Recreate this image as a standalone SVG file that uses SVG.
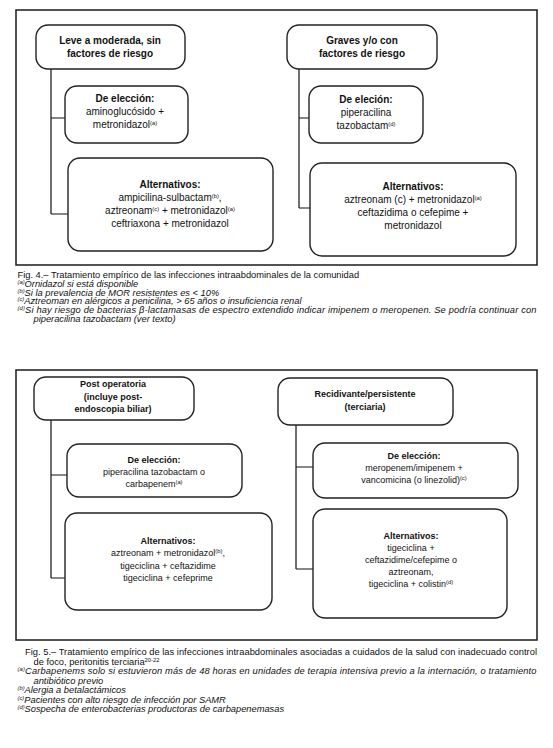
<svg xmlns="http://www.w3.org/2000/svg" width="553" height="748" viewBox="0 0 553 748">
<style>
.frame{fill:none;stroke:#1a1a1a;stroke-width:1.5}
.box{fill:#fff;stroke:#222;stroke-width:1.4}
.conn{fill:none;stroke:#111;stroke-width:1.2}
text{font-family:"Liberation Sans",Arial,sans-serif;fill:#111}
.b10{font-size:10px;font-weight:bold}
.r10{font-size:10px}
.b9{font-size:9px;font-weight:bold}
.r9{font-size:9px}
.cap{font-size:9.3px}
.it{font-style:italic}
.sup{font-size:5.8px}
</style>
<rect class="frame" x="16" y="10" width="521" height="255"/>
<rect class="frame" x="16" y="370" width="521" height="270"/>
<g id="connectors">
<path class="conn" d="M51 69V214M51 118H65M51 214H68"/>
<path class="conn" d="M299 69V208M299 118H309M299 208H310"/>
<path class="conn" d="M51 420V578M51 475H67M51 578H65"/>
<path class="conn" d="M296 425V569M296 467H313M296 569H313"/>
</g>
<g id="n1">
<rect class="box" x="36" y="25" width="149" height="44" rx="12"/>
<text class="b10" text-anchor="middle" x="110" y="44">Leve a moderada, sin</text>
<text class="b10" text-anchor="middle" x="110" y="57">factores de riesgo</text>
</g>
<g id="n1a">
<rect class="box" x="65" y="86" width="123" height="57" rx="12"/>
<text class="b10" text-anchor="middle" x="125" y="102">De elección:</text>
<text class="r10" text-anchor="middle" x="125" y="115">aminoglucósido +</text>
<text class="r10" text-anchor="middle" x="125" y="128">metronidazol<tspan class="sup" dy="-3.5">(a)</tspan></text>
</g>
<g id="n1b">
<rect class="box" x="68" y="158" width="205" height="93" rx="12"/>
<text class="b10" text-anchor="middle" x="170" y="188">Alternativos:</text>
<text class="r10" text-anchor="middle" x="170" y="201">ampicilina-sulbactam<tspan class="sup" dy="-3.5">(b)</tspan><tspan dy="3.5">,</tspan></text>
<text class="r10" text-anchor="middle" x="170" y="214">aztreonam<tspan class="sup" dy="-3.5">(c)</tspan><tspan dy="3.5"> + metronidazol</tspan><tspan class="sup" dy="-3.5">(a)</tspan></text>
<text class="r10" text-anchor="middle" x="170" y="227">ceftriaxona + metronidazol</text>
</g>
<g id="n2">
<rect class="box" x="287" y="25" width="150" height="44" rx="12"/>
<text class="b10" text-anchor="middle" x="362" y="44">Graves y/o con</text>
<text class="b10" text-anchor="middle" x="362" y="57">factores de riesgo</text>
</g>
<g id="n2a">
<rect class="box" x="309" y="86" width="114" height="57" rx="12"/>
<text class="b10" text-anchor="middle" x="366" y="103">De eleción:</text>
<text class="r10" text-anchor="middle" x="366" y="116">piperacilina</text>
<text class="r10" text-anchor="middle" x="366" y="129">tazobactam<tspan class="sup" dy="-3.5">(d)</tspan></text>
</g>
<g id="n2b">
<rect class="box" x="310" y="163" width="206" height="93" rx="12"/>
<text class="b10" text-anchor="middle" x="413" y="190">Alternativos:</text>
<text class="r10" text-anchor="middle" x="413" y="203">aztreonam (c) + metronidazol<tspan class="sup" dy="-3.5">(a)</tspan></text>
<text class="r10" text-anchor="middle" x="413" y="216">ceftazidima o cefepime +</text>
<text class="r10" text-anchor="middle" x="413" y="229">metronidazol</text>
</g>
<g id="caption4">
<text class="cap" x="17.5" y="278">Fig. 4.– Tratamiento empírico de las infecciones intraabdominales de la comunidad</text>
<text class="cap it" x="17.5" y="287"><tspan class="sup" dy="-3">(a)</tspan><tspan dy="3">Ornidazol si está disponible</tspan></text>
<text class="cap it" x="17.5" y="295.5"><tspan class="sup" dy="-3">(b)</tspan><tspan dy="3">Si la prevalencia de MOR resistentes es &lt; 10%</tspan></text>
<text class="cap it" x="17.5" y="304"><tspan class="sup" dy="-3">(c)</tspan><tspan dy="3">Aztreoman en alérgicos a penicilina, &gt; 65 años o insuficiencia renal</tspan></text>
<text class="cap it" x="17.5" y="313" textLength="519" lengthAdjust="spacing"><tspan class="sup" dy="-3">(d)</tspan><tspan dy="3">Si hay riesgo de bacterias β-lactamasas de espectro extendido indicar imipenem o meropenen. Se podría continuar con</tspan></text>
<text class="cap it" x="33.5" y="321.5">piperacilina tazobactam (ver texto)</text>
</g>
<g id="n3">
<rect class="box" x="34" y="377" width="160" height="43" rx="12"/>
<text class="b9" text-anchor="middle" x="113" y="387">Post operatoria</text>
<text class="b9" text-anchor="middle" x="113" y="399.5">(incluye post-</text>
<text class="b9" text-anchor="middle" x="113" y="412">endoscopia biliar)</text>
</g>
<g id="n3a">
<rect class="box" x="67" y="444" width="175" height="53" rx="12"/>
<text class="b9" text-anchor="middle" x="154" y="462.5">De elección:</text>
<text class="r9" text-anchor="middle" x="154" y="474.5">piperacilina tazobactam o</text>
<text class="r9" text-anchor="middle" x="154" y="486.5">carbapenem<tspan class="sup" dy="-3">(a)</tspan></text>
</g>
<g id="n3b">
<rect class="box" x="65" y="513" width="207" height="97" rx="12"/>
<text class="b9" text-anchor="middle" x="168" y="544">Alternativos:</text>
<text class="r9" text-anchor="middle" x="168" y="556">aztreonam + metronidazol<tspan class="sup" dy="-3">(b)</tspan><tspan dy="3">,</tspan></text>
<text class="r9" text-anchor="middle" x="168" y="568.5">tigeciclina + ceftazidime</text>
<text class="r9" text-anchor="middle" x="168" y="581">tigeciclina + cefeprime</text>
</g>
<g id="n4">
<rect class="box" x="278" y="378" width="175" height="47" rx="12"/>
<text class="b9" text-anchor="middle" x="365" y="397">Recidivante/persistente</text>
<text class="b9" text-anchor="middle" x="365" y="410">(terciaria)</text>
</g>
<g id="n4a">
<rect class="box" x="313" y="443" width="205" height="55" rx="12"/>
<text class="b9" text-anchor="middle" x="414" y="458.5">De elección:</text>
<text class="r9" text-anchor="middle" x="414" y="470.5">meropenem/imipenem +</text>
<text class="r9" text-anchor="middle" x="414" y="482.5">vancomicina (o linezolid)<tspan class="sup" dy="-3">(c)</tspan></text>
</g>
<g id="n4b">
<rect class="box" x="313" y="509" width="194" height="109" rx="12"/>
<text class="b9" text-anchor="middle" x="411" y="538.5">Alternativos:</text>
<text class="r9" text-anchor="middle" x="411" y="550.5">tigeciclina +</text>
<text class="r9" text-anchor="middle" x="411" y="562.5">ceftazidime/cefepime o</text>
<text class="r9" text-anchor="middle" x="411" y="574.5">aztreonam,</text>
<text class="r9" text-anchor="middle" x="411" y="586.5">tigeciclina + colistin<tspan class="sup" dy="-3">(d)</tspan></text>
</g>
<g id="caption5">
<text class="cap" x="25" y="655" textLength="512" lengthAdjust="spacing">Fig. 5.– Tratamiento empírico de las infecciones intraabdominales asociadas a cuidados de la salud con inadecuado control</text>
<text class="cap" x="33.5" y="664.5">de foco, peritonitis terciaria<tspan class="sup" dy="-3">20-22</tspan></text>
<text class="cap it" x="17.5" y="674" textLength="519" lengthAdjust="spacing"><tspan class="sup" dy="-3">(a)</tspan><tspan dy="3">Carbapenems solo si estuvieron más de 48 horas en unidades de terapia intensiva previo a la internación, o tratamiento</tspan></text>
<text class="cap it" x="33.5" y="683.5">antibiótico previo</text>
<text class="cap it" x="17.5" y="693"><tspan class="sup" dy="-3">(b)</tspan><tspan dy="3">Alergia a betalactámicos</tspan></text>
<text class="cap it" x="17.5" y="702.5"><tspan class="sup" dy="-3">(c)</tspan><tspan dy="3">Pacientes con alto riesgo de infección por SAMR</tspan></text>
<text class="cap it" x="17.5" y="712"><tspan class="sup" dy="-3">(d)</tspan><tspan dy="3">Sospecha de enterobacterias productoras de carbapenemasas</tspan></text>
</g>
</svg>
